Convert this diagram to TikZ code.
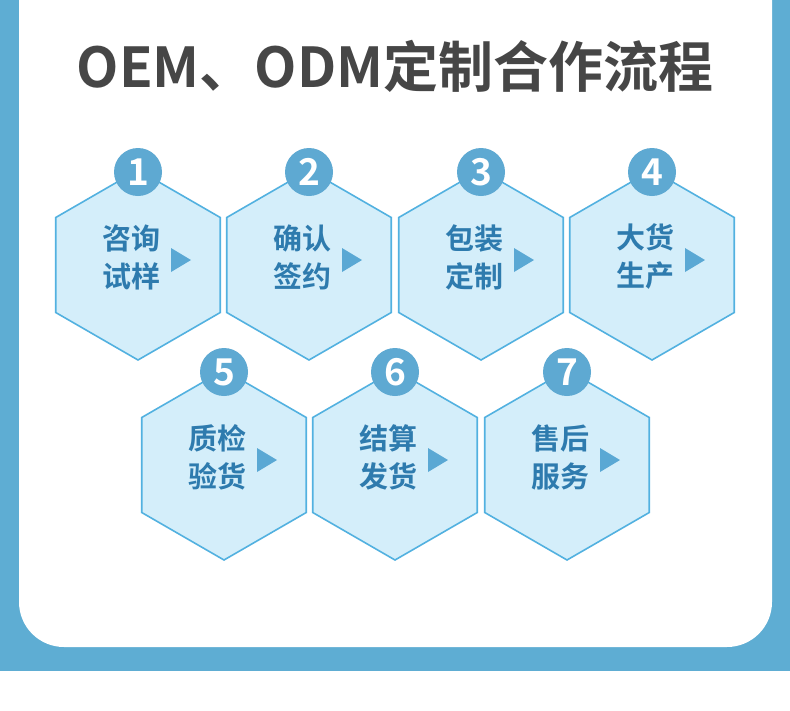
\documentclass[tikz,border=0pt]{standalone}
\usepackage{fontspec}
\newfontfamily\cjk{Noto Sans CJK SC}[BoldFont={* Bold}]
\usetikzlibrary{calc}
\definecolor{frameblue}{HTML}{5EADD3}
\definecolor{hexfill}{HTML}{D4EEFA}
\definecolor{hexline}{HTML}{52B1E0}
\definecolor{txtblue}{HTML}{2E7BAE}
\definecolor{triblue}{HTML}{5AA8D4}
\definecolor{numblue}{HTML}{5EA9D2}
\definecolor{titlegray}{HTML}{464646}
\tikzset{
  hexshape/.style={fill=hexfill, draw=hexline, line width=1.6pt, line join=miter},
  numc/.style={circle, fill=numblue, minimum size=48pt, inner sep=0pt, text=white, font=\cjk\bfseries\fontsize{37}{37}\selectfont},
  lbl/.style={align=center, text=txtblue, inner sep=0pt, font=\cjk\bfseries\fontsize{29}{38}\selectfont},
  tri/.style={fill=triblue},
}
\newcommand{\hexstep}[5]{%
  \coordinate (h#1) at (#2,#3);
  \draw[hexshape] ($(h#1)+(90:95)$) -- ($(h#1)+(150:95)$) -- ($(h#1)+(210:95)$) -- ($(h#1)+(270:95)$) -- ($(h#1)+(330:95)$) -- ($(h#1)+(30:95)$) -- cycle;
  \node[numc] (n#1) at ($(h#1)+(0,-93)$) {#1};
  \node[lbl] (t#1) at ($(h#1)+(-7,-8)$) {#4\\#5};
  \fill[tri] ($(h#1)+(33,-17)$) -- ($(h#1)+(53,-5)$) -- ($(h#1)+(33,7)$) -- cycle;
}
\begin{document}
\begin{tikzpicture}[x=1pt,y=-1pt]
\useasboundingbox (0,0) rectangle (790,710);
\fill[white] (0,0) rectangle (790,710);
\fill[frameblue] (0,0) rectangle (790,671);
\fill[white, rounded corners=45pt] (19,-60) rectangle (772,647);
\node[anchor=base, text=titlegray, inner sep=0pt, font=\cjk\bfseries\fontsize{55}{55}\selectfont] (title) at (395,87) {OEM、ODM定制合作流程};
\hexstep{1}{138}{265}{咨询}{试样}
\hexstep{2}{309}{265}{确认}{签约}
\hexstep{3}{481}{265}{包装}{定制}
\hexstep{4}{652}{265}{大货}{生产}
\hexstep{5}{224}{465}{质检}{验货}
\hexstep{6}{395}{465}{结算}{发货}
\hexstep{7}{567}{465}{售后}{服务}
\end{tikzpicture}
\end{document}
